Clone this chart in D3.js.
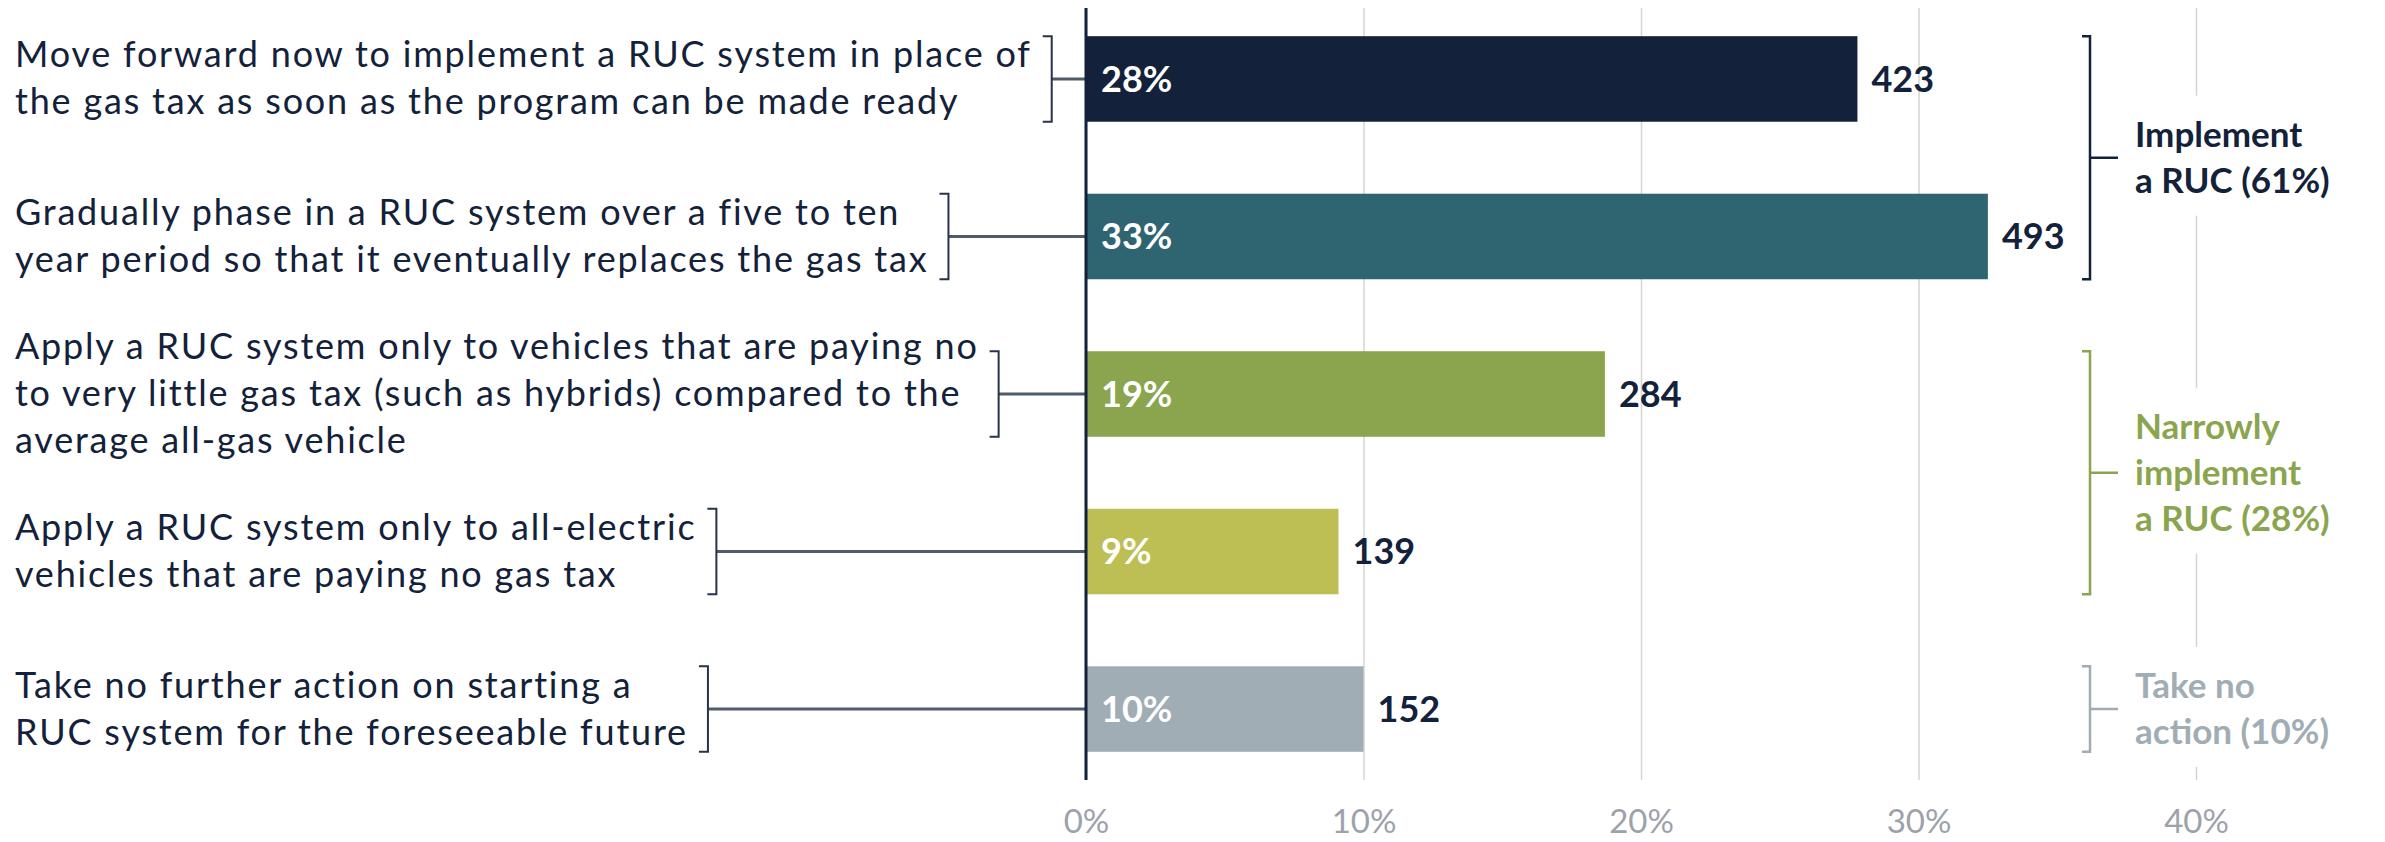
<!DOCTYPE html>
<html>
<head>
<meta charset="utf-8">
<script src="https://cdn.jsdelivr.net/npm/d3@7"></script>
<style>
  body { margin: 0; background: #fff; }
  svg { display: block; font-family: Lato, "Open Sans", sans-serif; }
</style>
</head>
<body>
<svg></svg>
<script>
const svgWidth = 2385;
const svgHeight = 842;

// data
const categories = [
  ["Move forward now to implement a RUC system in place of", "the gas tax as soon as the program can be made ready"],
  ["Gradually phase in a RUC system over a five to ten", "year period so that it eventually replaces the gas tax"],
  ["Apply a RUC system only to vehicles that are paying no", "to very little gas tax (such as hybrids) compared to the", "average all-gas vehicle"],
  ["Apply a RUC system only to all-electric", "vehicles that are paying no gas tax"],
  ["Take no further action on starting a", "RUC system for the foreseeable future"]
];
const percents = [27.8, 32.5, 18.7, 9.1, 10.0];
const pctLabels = ["28%", "33%", "19%", "9%", "10%"];
const counts = [423, 493, 284, 139, 152];
const barColors = ["#13213a", "#2f6570", "#8aa54e", "#bdbf55", "#a0adb5"];

const groupLabels = [["Implement", "a RUC (61%)"], ["Narrowly", "implement", "a RUC (28%)"], ["Take no", "action (10%)"]];
const groupRows = [[0, 1], [2, 3], [4, 4]];
const groupColors = ["#13213a", "#8aa54e", "#a0adb5"];

const tickValues = [0, 10, 20, 30, 40];

const svg = d3.select("svg")
    .attr("width", svgWidth)
    .attr("height", svgHeight)
    .attr("viewBox", `0 0 ${svgWidth} ${svgHeight}`);

const plotTop = 8, plotBottom = 780;

const x = d3.scaleLinear()
    .domain([0, 40])
    .range([1086, 2196]);

const y = d3.scaleBand()
    .domain(d3.range(categories.length))
    .range([plotTop, plotBottom])
    .paddingInner(0.457)
    .paddingOuter(0.179);

// gridlines + tick labels
const axis = svg.append("g")
    .attr("transform", `translate(0,${plotBottom})`)
    .call(d3.axisBottom(x)
        .tickValues(tickValues)
        .tickFormat((d) => d + "%")
        .tickSize(-(plotBottom - plotTop))
        .tickPadding(30));
axis.select(".domain").remove();
axis.selectAll("line").attr("stroke", "#d4d4d6").attr("stroke-width", 1.5);
axis.selectAll("text")
    .attr("fill", "#9da1ab")
    .style("font-size", "33px")
    .style("font-family", "Lato, sans-serif");

// bars
svg.append("g").selectAll("rect")
    .data(percents)
    .join("rect")
    .attr("x", x(0))
    .attr("y", (d, i) => y(i))
    .attr("width", (d) => x(d) - x(0))
    .attr("height", y.bandwidth())
    .attr("fill", (d, i) => barColors[i]);

// percent labels inside bars
svg.append("g").selectAll("text")
    .data(pctLabels)
    .join("text")
    .attr("x", x(0) + 15)
    .attr("y", (d, i) => y(i) + y.bandwidth() / 2)
    .attr("dy", "0.36em")
    .attr("fill", "#fff")
    .style("font-size", "36px")
    .style("font-weight", 700)
    .text((d) => d);

// count labels
svg.append("g").selectAll("text")
    .data(counts)
    .join("text")
    .attr("x", (d, i) => x(percents[i]) + 14)
    .attr("y", (d, i) => y(i) + y.bandwidth() / 2)
    .attr("dy", "0.36em")
    .attr("fill", "#13213a")
    .style("font-size", "36px")
    .style("font-weight", 700)
    .text((d) => d);

// category labels with brackets
const lineH = 47;
categories.forEach((lines, i) => {
    const cy = y(i) + y.bandwidth() / 2;
    const firstBase = cy - (lines.length - 1) * lineH / 2 + 12;
    const t = svg.append("text")
        .attr("fill", "#13213a")
        .style("font-size", "36px")
        .style("letter-spacing", "1.8px");
    lines.forEach((ln, j) => {
        t.append("tspan").attr("x", 15).attr("y", firstBase + j * lineH).text(ln);
    });
    const w = d3.max(t.selectAll("tspan").nodes(), (n) => n.getComputedTextLength());
    const bx = 15 + w + 20;
    svg.append("line")
        .attr("x1", bx).attr("x2", x(0))
        .attr("y1", cy).attr("y2", cy)
        .attr("stroke", "#4f5b6b")
        .attr("stroke-width", 3);
    svg.append("path")
        .attr("d", `M${bx - 9},${y(i)} H${bx} V${y(i) + y.bandwidth()} H${bx - 9}`)
        .attr("fill", "none")
        .attr("stroke", "#26334a")
        .attr("stroke-width", 2);
});

// axis line
svg.append("line")
    .attr("x1", x(0)).attr("x2", x(0))
    .attr("y1", plotTop).attr("y2", plotBottom)
    .attr("stroke", "#13213a")
    .attr("stroke-width", 3);

// group brackets on the right
const gx = 2090;
groupLabels.forEach((lines, k) => {
    const top = y(groupRows[k][0]);
    const bottom = y(groupRows[k][1]) + y.bandwidth();
    const mid = (top + bottom) / 2;
    const c = groupColors[k];
    const firstBase = mid - (lines.length - 1) * 46 / 2 + 12;
    const bg = svg.append("rect").attr("fill", "#fff");
    const t = svg.append("text")
        .attr("fill", c)
        .style("font-size", "35px")
        .style("font-weight", 700);
    lines.forEach((ln, j) => {
        t.append("tspan").attr("x", 2135).attr("y", firstBase + j * 46).text(ln);
    });
    const bb = t.node().getBBox();
    bg.attr("x", bb.x - 10).attr("y", bb.y - 16)
        .attr("width", bb.width + 20).attr("height", bb.height + 32);
    svg.append("path")
        .attr("d", `M${gx - 8},${top} H${gx} V${bottom} H${gx - 8} M${gx},${mid} H${gx + 28}`)
        .attr("fill", "none")
        .attr("stroke", c)
        .attr("stroke-width", 2.5);
});
</script>
</body>
</html>
